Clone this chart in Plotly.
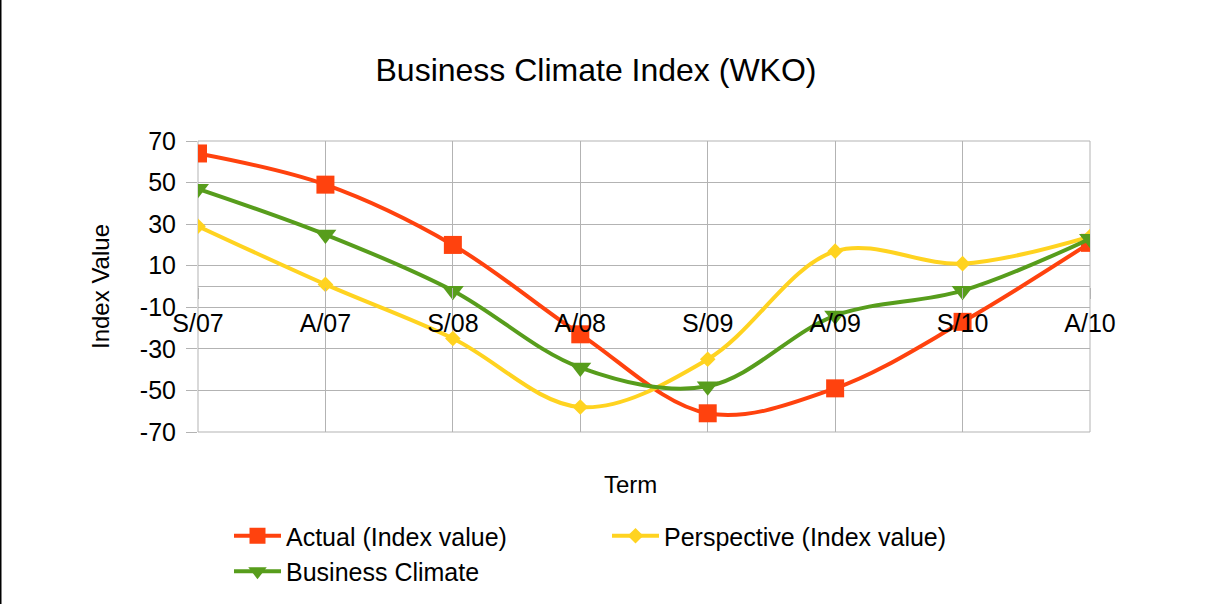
import plotly.graph_objects as go

terms = ["S/07", "A/07", "S/08", "A/08", "S/09", "A/09", "S/10", "A/10"]
actual = [64, 49, 20, -23, -61, -49, -17, 21]
perspective = [29, 1, -25, -58, -35, 17, 11, 24]
climate = [47, 25, -2, -39, -48, -14, -2, 23]
y_ticks = [-70, -50, -30, -10, 10, 30, 50, 70]

W, H = 1209, 604
L, R, T, B = 198, 119, 141, 172
PW, PH = W - L - R, H - T - B
FONT = "Liberation Sans, Arial, sans-serif"
GRID = "#b3b3b3"

fig = go.Figure()
series = [
    ("Actual (Index value)", actual, "#ff420e", "square", 18),
    ("Perspective (Index value)", perspective, "#ffd320", "diamond", 12),
    ("Business Climate", climate, "#579d1c", "triangle-down", 19),
]
for name, vals, col, sym, sz in series:
    fig.add_trace(go.Scatter(
        x=terms, y=vals, name=name, mode="lines+markers",
        line=dict(color=col, width=4, shape="spline", smoothing=1.0),
        marker=dict(symbol=sym, size=sz, color=col, line=dict(width=0)),
    ))

fig.update_layout(
    width=W, height=H,
    margin=dict(l=L, r=R, t=T, b=B, autoexpand=False),
    paper_bgcolor="white", plot_bgcolor="white",
    font=dict(family=FONT, size=25, color="black"),
    title=dict(text="Business Climate Index (WKO)", x=596 / W, xanchor="center",
               y=1 - 70 / H, yanchor="middle", font=dict(size=32, family=FONT)),
    showlegend=True,
    legend=dict(orientation="h", xref="container", x=229 / W, xanchor="left",
                yref="container", y=1 - 513 / H, yanchor="top",
                entrywidth=316, entrywidthmode="pixels", itemwidth=47,
                font=dict(size=25, family=FONT),
                tracegroupgap=0, bgcolor="rgba(0,0,0,0)"),
    xaxis=dict(
        type="category", range=[0, len(terms) - 1],
        showgrid=True, gridcolor=GRID, gridwidth=1,
        anchor="free", position=0.5,
        ticks="outside", ticklen=11, tickcolor=GRID, tickwidth=1,
        showline=False, ticklabelstandoff=3, automargin=False,
        tickfont=dict(size=25, family=FONT),
    ),
    yaxis=dict(
        range=[-70, 70], tickvals=y_ticks, ticktext=[str(v) for v in y_ticks],
        showgrid=True, gridcolor=GRID, gridwidth=1,
        zeroline=True, zerolinecolor=GRID, zerolinewidth=1,
        ticks="outside", ticklen=11, tickcolor=GRID, tickwidth=1,
        ticklabelstandoff=5, showline=False, automargin=False,
        tickfont=dict(size=25, family=FONT),
    ),
    shapes=[
        dict(type="rect", xref="paper", yref="paper", x0=0, x1=1, y0=0, y1=1,
             line=dict(color=GRID, width=1), layer="below"),
        dict(type="line", xref="paper", yref="paper",
             x0=(0.75 - L) / PW, x1=(0.75 - L) / PW,
             y0=-2, y1=3,
             line=dict(color="black", width=1.5)),
    ],
    annotations=[
        dict(text="Index Value", xref="paper", yref="paper",
             x=(100 - L) / PW, y=(432 - 287) / PH,
             xanchor="center", yanchor="middle", textangle=-90, showarrow=False,
             font=dict(size=24, family=FONT)),
        dict(text="Term", xref="paper", yref="paper",
             x=(630 - L) / PW, y=(432 - 484) / PH,
             xanchor="center", yanchor="middle", showarrow=False,
             font=dict(size=24, family=FONT)),
    ],
)

fig.write_html("out.html")
